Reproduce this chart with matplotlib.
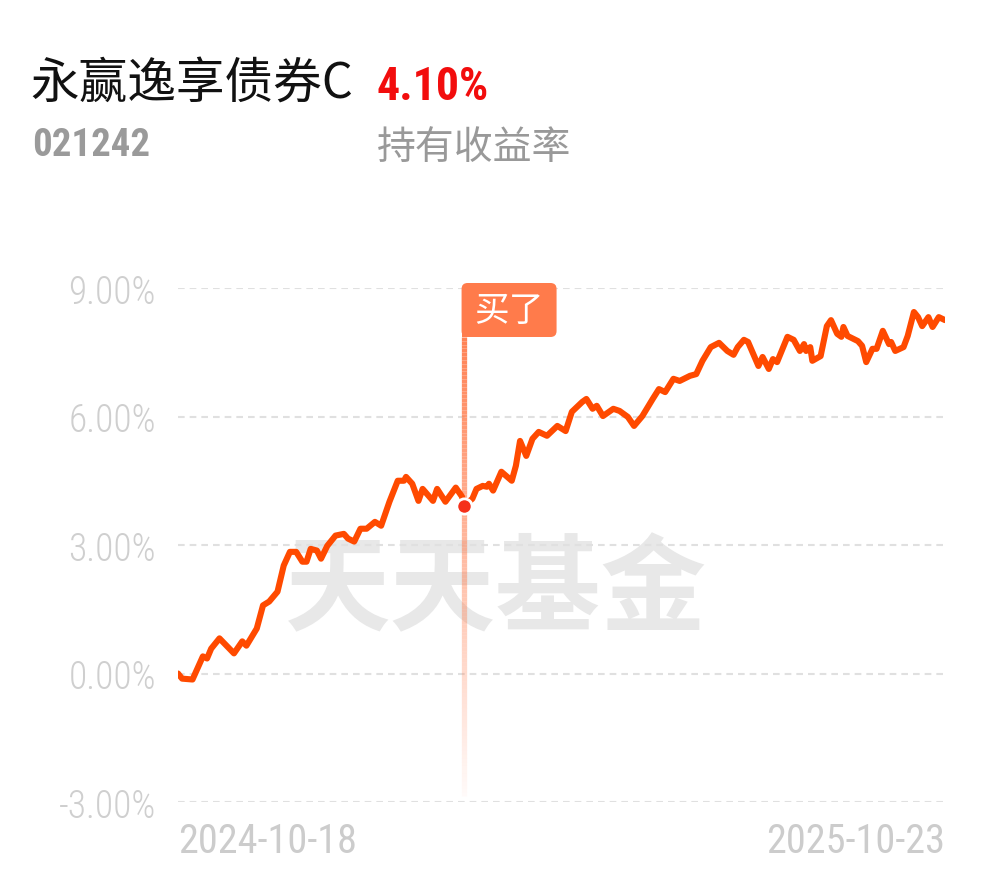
import matplotlib
matplotlib.use('Agg')
from matplotlib import pyplot as plt
from matplotlib import font_manager as fm
from matplotlib import transforms as mtransforms
from matplotlib.patches import FancyBboxPatch, Rectangle
from matplotlib.collections import LineCollection
import numpy as np

fund_name = '永赢逸享债券C'
fund_code = '021242'
hold_ret = '4.10%'
hold_label = '持有收益率'
start_label = '2024-10-18'
end_label = '2025-10-23'

# days since 2024-10-18, cumulative return in %
days = [0, 2, 7, 12, 14, 16, 20, 27, 31, 33, 38, 41, 44, 48, 51, 54, 57, 60, 62, 64,
        67, 69, 72, 76, 80, 82, 85, 88, 91, 95, 98, 102, 106, 109, 110, 113, 116, 118,
        123, 125, 129, 134, 137, 138, 142, 144, 147, 149, 150, 152, 156, 161, 163, 165,
        168, 171, 174, 178, 183, 187, 190, 195, 197, 200, 202, 205, 210, 213, 217, 220,
        224, 229, 232, 235, 239, 242, 247, 250, 253, 257, 261, 265, 268, 270, 273, 275,
        280, 282, 285, 287, 289, 294, 297, 300, 302, 303, 305, 306, 310, 313, 315, 318,
        320, 321, 323, 328, 330, 332, 335, 337, 340, 343, 344, 346, 350, 352, 355, 357,
        359, 362, 364, 367, 370]
rets = [0.00, -0.12, -0.14, 0.40, 0.35, 0.58, 0.82, 0.47, 0.75, 0.65, 1.05, 1.59, 1.68,
        1.91, 2.52, 2.84, 2.84, 2.61, 2.61, 2.91, 2.87, 2.68, 2.98, 3.22, 3.26, 3.15,
        3.08, 3.38, 3.38, 3.54, 3.45, 4.01, 4.50, 4.50, 4.59, 4.43, 4.03, 4.31, 4.03,
        4.31, 4.01, 4.34, 4.13, 3.92, 4.08, 4.31, 4.38, 4.36, 4.43, 4.27, 4.71, 4.50,
        4.85, 5.43, 5.08, 5.48, 5.64, 5.55, 5.78, 5.66, 6.11, 6.34, 6.41, 6.18, 6.25,
        6.01, 6.18, 6.13, 5.99, 5.78, 6.01, 6.41, 6.64, 6.57, 6.88, 6.83, 6.95, 6.99,
        7.30, 7.62, 7.72, 7.53, 7.44, 7.62, 7.79, 7.74, 7.18, 7.39, 7.11, 7.34, 7.27,
        7.86, 7.79, 7.53, 7.69, 7.53, 7.62, 7.30, 7.41, 8.11, 8.25, 7.93, 7.86, 8.09,
        7.88, 7.76, 7.65, 7.27, 7.58, 7.58, 8.00, 7.69, 7.74, 7.53, 7.62, 7.88, 8.44,
        8.32, 8.11, 8.32, 8.09, 8.32, 8.25]
buy_day = 138
buy_ret = 3.92
buy_label = '买了'
watermark = '天天基金'

yticks = [-3, 0, 3, 6, 9]
ytick_labels = ['-3.00%', '0.00%', '3.00%', '6.00%', '9.00%']

CJK = ['Noto Sans CJK SC', 'DejaVu Sans']
avail = {f.name for f in fm.fontManager.ttflist}
if 'Roboto Condensed' in avail:
    NUM = dict(family='Roboto Condensed')
else:
    NUM = dict(family='DejaVu Sans', stretch='condensed')

W, H = 990, 878
fig = plt.figure(figsize=(W / 100, H / 100), dpi=100)
fig.patch.set_facecolor('white')
ax = fig.add_axes([178 / W, 75 / H, 767 / W, 514 / H])
ax.set_xlim(days[0], days[-1])
ax.set_ylim(-3, 9)
for s in ax.spines.values():
    s.set_visible(False)

ax.set_yticks(yticks, ytick_labels)
ax.tick_params(axis='y', length=0, pad=16, labelcolor='#CFCFCF', labelsize=27)
for lab in ax.get_yticklabels():
    lab.set(weight='light', **NUM)
ax.yaxis.grid(True, linestyle=(0, (3.2, 2.4)), color='#E0E0E0', linewidth=1.5)
ax.set_axisbelow(True)

ax.set_xticks([days[0], days[-1]], [start_label, end_label])
ax.tick_params(axis='x', length=0, pad=14, labelcolor='#CCCCCC', labelsize=29)
xl = ax.get_xticklabels()
for lab in xl:
    lab.set(**NUM)
xl[0].set_ha('left')
xl[1].set_ha('right')

ax.text(0.415, 0.41, watermark, transform=ax.transAxes, family=CJK, fontsize=76,
        weight='bold', color='#E8E8E8', ha='center', va='center', zorder=0)

# buy flag, in pixels
bx, by = ax.transData.transform((buy_day, buy_ret))
top = ax.transAxes.transform((0, 1))[1]
bottom = ax.transAxes.transform((0, 0))[1]
flag_col = '#FF7B4B'
box_l, box_b, box_w, box_h = bx - 2.5, top - 49, 95, 54
ident = mtransforms.IdentityTransform()
ax.add_patch(FancyBboxPatch((box_l, box_b), box_w, box_h,
                            boxstyle='round,pad=0,rounding_size=6',
                            fc=flag_col, ec='none', transform=ident, clip_on=False, zorder=3))
ax.add_patch(Rectangle((box_l, box_b), 10, 10, fc=flag_col, ec='none',
                       transform=ident, clip_on=False, zorder=3))
ax.text(box_l + box_w / 2, box_b + box_h / 2, buy_label, transform=ident, family=CJK,
        fontsize=25, color='white', ha='center', va='center', zorder=4)

n = 120
ys = np.linspace(box_b, bottom + 6, n + 1)
segs = [[(bx, ys[i]), (bx, ys[i + 1])] for i in range(n)]
alphas = np.linspace(0.95, 0.03, n)
cols = [matplotlib.colors.to_rgba(flag_col, a) for a in alphas]
ax.add_collection(LineCollection(segs, colors=cols, linewidths=3.8, transform=ident,
                                 zorder=2, clip_on=False, capstyle='butt'))

ax.plot(days, rets, color='#FF4A00', lw=4.4, solid_joinstyle='round',
        solid_capstyle='round', zorder=4)
ax.plot(buy_day, buy_ret, 'o', ms=11, mfc='#F5301A', mec='white', mew=2, zorder=5)

# header
def py(p):
    return 1 - p / H

fig.text(30 / W, py(85), fund_name, family=CJK, fontsize=35, color='#111111',
         ha='left', va='center')
fig.text(377 / W, py(87), hold_ret, fontsize=33, weight='bold', color='#F20D0D',
         ha='left', va='center', **NUM)
fig.text(32 / W, py(146), fund_code, fontsize=28, weight='bold', color='#9A9A9A',
         ha='left', va='center', **NUM)
fig.text(377 / W, py(148), hold_label, family=CJK, fontsize=28, color='#999999',
         ha='left', va='center')

fig.savefig('out.png', dpi=100)
